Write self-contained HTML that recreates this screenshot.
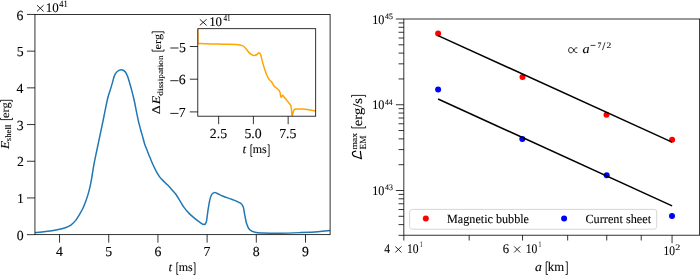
<!DOCTYPE html>
<html><head><meta charset="utf-8"><style>
html,body{margin:0;padding:0;background:#fff;width:700px;height:275px;overflow:hidden;}
svg{display:block;will-change:transform;font-family:"Liberation Serif",serif;}
text{stroke:#000;stroke-width:0.1px;}
</style></head><body>
<svg width="700" height="275" viewBox="0 0 700 275" text-rendering="geometricPrecision" font-family="Liberation Serif">
<defs><clipPath id="cl"><rect x="34.95" y="14.45" width="295.15" height="220.2"/></clipPath>
<clipPath id="ci"><rect x="197.8" y="28.7" width="117.9" height="87.5"/></clipPath></defs>
<path d="M35,232.6 C36.77,232.42 41.88,231.98 45.6,231.5 C49.32,231.02 54,230.33 57.3,229.7 C60.6,229.07 63.08,228.52 65.4,227.7 C67.72,226.88 69.45,226.07 71.2,224.8 C72.95,223.53 74.5,221.85 75.9,220.1 C77.3,218.35 78.45,216.23 79.6,214.3 C80.75,212.37 81.85,210.45 82.8,208.5 C83.75,206.55 84.4,205.03 85.3,202.6 C86.2,200.17 87.35,196.8 88.2,193.9 C89.05,191 89.73,188.35 90.4,185.2 C91.07,182.05 91.58,178.6 92.2,175 C92.82,171.4 93.33,167.68 94.1,163.6 C94.87,159.52 95.9,154.82 96.8,150.5 C97.7,146.18 98.75,141.27 99.5,137.7 C100.25,134.13 100.68,132.05 101.3,129.1 C101.92,126.15 102.52,123.33 103.2,120 C103.88,116.67 104.65,112.73 105.4,109.1 C106.15,105.47 106.85,101.53 107.7,98.2 C108.55,94.87 109.72,91.65 110.5,89.1 C111.28,86.55 111.78,85.02 112.4,82.9 C113.02,80.78 113.48,78.22 114.2,76.4 C114.92,74.58 115.55,73.1 116.7,72 C117.85,70.9 119.7,69.87 121.1,69.8 C122.5,69.73 124.02,70.5 125.1,71.6 C126.18,72.7 126.85,74.52 127.6,76.4 C128.35,78.28 128.97,80.78 129.6,82.9 C130.23,85.02 130.65,86.25 131.4,89.1 C132.15,91.95 133.28,96.37 134.1,100 C134.92,103.63 135.55,107.27 136.3,110.9 C137.05,114.53 137.88,118.7 138.6,121.8 C139.32,124.9 139.97,127.15 140.6,129.5 C141.23,131.85 141.75,133.57 142.4,135.9 C143.05,138.23 143.82,141.35 144.5,143.5 C145.18,145.65 145.83,147.05 146.5,148.8 C147.17,150.55 147.87,152.42 148.5,154 C149.13,155.58 149.57,156.55 150.3,158.3 C151.03,160.05 151.87,162.25 152.9,164.5 C153.93,166.75 155.28,169.62 156.5,171.8 C157.72,173.98 158.87,175.9 160.2,177.6 C161.53,179.3 163.17,180.67 164.5,182 C165.83,183.33 166.93,184.28 168.2,185.6 C169.47,186.92 170.77,188.37 172.1,189.9 C173.43,191.43 174.83,192.88 176.2,194.8 C177.57,196.72 178.93,199.22 180.3,201.4 C181.67,203.58 182.9,205.87 184.4,207.9 C185.9,209.93 187.53,211.82 189.3,213.6 C191.07,215.38 193.23,217.15 195,218.6 C196.77,220.05 198.4,221.3 199.9,222.3 C201.4,223.3 202.93,224.65 204,224.6 C205.07,224.55 205.68,224.05 206.3,222 C206.92,219.95 207.17,215.73 207.7,212.3 C208.23,208.87 208.88,204.28 209.5,201.4 C210.12,198.52 210.63,196.47 211.4,195 C212.17,193.53 213.2,192.9 214.1,192.6 C215,192.3 215.28,192.58 216.8,193.2 C218.32,193.82 220.62,195.25 223.2,196.3 C225.78,197.35 229.42,198.35 232.3,199.5 C235.18,200.65 238.68,201.98 240.5,203.2 C242.32,204.42 242.52,204.98 243.2,206.8 C243.88,208.62 244.05,211.37 244.6,214.1 C245.15,216.83 245.68,220.63 246.5,223.2 C247.32,225.77 248.08,227.98 249.5,229.5 C250.92,231.02 252.72,231.72 255,232.3 C257.28,232.88 259.02,232.85 263.2,233 C267.38,233.15 273.85,233.27 280.1,233.2 C286.35,233.13 294.4,232.83 300.7,232.6 C307,232.37 313.02,232.13 317.9,231.8 C322.78,231.47 327.98,230.8 330,230.6" fill="none" stroke="#1f77b4" stroke-width="1.5" stroke-linejoin="round" clip-path="url(#cl)"/>
<rect x="34.95" y="14.45" width="295.15" height="220.2" fill="none" stroke="#000" stroke-width="0.8"/>
<line x1="59.55" y1="234.65" x2="59.55" y2="242.65" stroke="#000" stroke-width="0.8"/>
<text transform="translate(56.06 256.2)" font-size="13.8" fill="#000">4</text>
<line x1="108.74" y1="234.65" x2="108.74" y2="242.65" stroke="#000" stroke-width="0.8"/>
<text transform="translate(105.15 256.2)" font-size="13.8" fill="#000">5</text>
<line x1="157.93" y1="234.65" x2="157.93" y2="242.65" stroke="#000" stroke-width="0.8"/>
<text transform="translate(154.38 256.2)" font-size="13.8" fill="#000">6</text>
<line x1="207.12" y1="234.65" x2="207.12" y2="242.65" stroke="#000" stroke-width="0.8"/>
<text transform="translate(203.43 256.2)" font-size="13.8" fill="#000">7</text>
<line x1="256.31" y1="234.65" x2="256.31" y2="242.65" stroke="#000" stroke-width="0.8"/>
<text transform="translate(252.86 256.2)" font-size="13.8" fill="#000">8</text>
<line x1="305.5" y1="234.65" x2="305.5" y2="242.65" stroke="#000" stroke-width="0.8"/>
<text transform="translate(302.12 256.2)" font-size="13.8" fill="#000">9</text>
<line x1="26.95" y1="234.65" x2="34.95" y2="234.65" stroke="#000" stroke-width="0.8"/>
<text transform="translate(16.75 239.77)" font-size="13.8" fill="#000">0</text>
<line x1="26.95" y1="197.95" x2="34.95" y2="197.95" stroke="#000" stroke-width="0.8"/>
<text transform="translate(17.03 203.1)" font-size="13.8" fill="#000">1</text>
<line x1="26.95" y1="161.25" x2="34.95" y2="161.25" stroke="#000" stroke-width="0.8"/>
<text transform="translate(16.96 166.4)" font-size="13.8" fill="#000">2</text>
<line x1="26.95" y1="124.55" x2="34.95" y2="124.55" stroke="#000" stroke-width="0.8"/>
<text transform="translate(16.75 129.63)" font-size="13.8" fill="#000">3</text>
<line x1="26.95" y1="87.85" x2="34.95" y2="87.85" stroke="#000" stroke-width="0.8"/>
<text transform="translate(16.41 93)" font-size="13.8" fill="#000">4</text>
<line x1="26.95" y1="51.15" x2="34.95" y2="51.15" stroke="#000" stroke-width="0.8"/>
<text transform="translate(16.75 56.2)" font-size="13.8" fill="#000">5</text>
<line x1="26.95" y1="14.45" x2="34.95" y2="14.45" stroke="#000" stroke-width="0.8"/>
<text transform="translate(16.61 19.53)" font-size="13.8" fill="#000">6</text>
<path d="M37,5.2 L43.6,11.4 M37,11.4 L43.6,5.2" stroke="#000" stroke-width="0.85" fill="none"/>
<text transform="translate(45.83 11.8) scale(0.9840 1)" font-size="13.2" fill="#000">10</text>
<text transform="translate(59.33 6.5) scale(0.8832 1)" font-size="9.6" fill="#000">41</text>
<text transform="translate(168.51 271.4) scale(1.1000 1)" font-size="12" font-style="italic" fill="#000">t</text>
<path d="M178.3,262.73 L176.8,262.73 L176.8,274.47 L178.3,274.47" fill="none" stroke="#000" stroke-width="0.85"/>
<text transform="translate(178.66 271.4) scale(0.9851 1)" font-size="12.2" fill="#000">ms</text>
<path d="M193.5,262.73 L195,262.73 L195,274.47 L193.5,274.47" fill="none" stroke="#000" stroke-width="0.85"/>
<text transform="translate(9.4 148.97) rotate(-90) scale(1.0974 1)" font-size="12.2" font-style="italic" fill="#000">E</text>
<text transform="translate(11.4 141.25) rotate(-90) scale(1.0539 1)" font-size="8.4" fill="#000">shell</text>
<path d="M0.42,117.8 L0.42,119.6 L12.47,119.6 L12.47,117.8" fill="none" stroke="#000" stroke-width="0.85"/>
<text transform="translate(9.4 118) rotate(-90) scale(1.0870 1)" font-size="11.5" fill="#000">erg</text>
<path d="M0.42,102.1 L0.42,100.3 L12.27,100.3 L12.27,102.1" fill="none" stroke="#000" stroke-width="0.85"/>
<rect x="197.8" y="28.7" width="117.9" height="87.5" fill="#fff"/>
<path d="M197.8,24 C197.81,26 197.8,32.8 197.85,36 C197.9,39.2 197.74,41.93 198.1,43.2 C198.46,44.47 198.08,43.48 200,43.6 C201.92,43.72 205.58,43.8 209.6,43.9 C213.62,44 219.73,44.1 224.1,44.2 C228.47,44.3 232.73,44.27 235.8,44.5 C238.87,44.73 240.8,44.9 242.5,45.6 C244.2,46.3 244.87,47.48 246,48.7 C247.13,49.92 248.22,51.83 249.3,52.9 C250.38,53.97 251.65,54.67 252.5,55.1 C253.35,55.53 253.63,55.6 254.4,55.5 C255.17,55.4 256.33,54.95 257.1,54.5 C257.87,54.05 258.4,52.7 259,52.8 C259.6,52.9 260.13,53.63 260.7,55.1 C261.27,56.57 261.75,59.3 262.4,61.6 C263.05,63.9 263.88,66.72 264.6,68.9 C265.32,71.08 265.98,73 266.7,74.7 C267.42,76.4 268.05,77.83 268.9,79.1 C269.75,80.37 270.87,81.07 271.8,82.3 C272.73,83.53 273.57,85.43 274.5,86.5 C275.43,87.57 276.57,87.97 277.4,88.7 C278.23,89.43 279.02,90.05 279.5,90.9 C279.98,91.75 280.05,92.75 280.3,93.8 C280.55,94.85 280.63,96.95 281,97.2 C281.37,97.45 282.02,95.38 282.5,95.3 C282.98,95.22 283.18,95.85 283.9,96.7 C284.62,97.55 285.83,99.18 286.8,100.4 C287.77,101.62 288.97,102.92 289.7,104 C290.43,105.08 290.83,105.08 291.2,106.9 C291.57,108.72 291.67,113.57 291.9,114.9 C292.13,116.23 292.23,115.75 292.6,114.9 C292.97,114.05 293.37,110.77 294.1,109.8 C294.83,108.83 295.55,109.22 297,109.1 C298.45,108.98 300.87,108.98 302.8,109.1 C304.73,109.22 306.53,109.52 308.6,109.8 C310.67,110.08 313.8,110.6 315.2,110.8 C316.6,111 316.7,110.97 317,111" fill="none" stroke="#ffa500" stroke-width="1.5" stroke-linejoin="round" clip-path="url(#ci)"/>
<rect x="197.8" y="28.7" width="117.9" height="87.5" fill="none" stroke="#000" stroke-width="0.8"/>
<line x1="218.65" y1="116.2" x2="218.65" y2="124.2" stroke="#000" stroke-width="0.8"/>
<text transform="translate(209.79 138.4)" font-size="13.8" fill="#000">2.5</text>
<line x1="253.4" y1="116.2" x2="253.4" y2="124.2" stroke="#000" stroke-width="0.8"/>
<text transform="translate(244.44 138.4)" font-size="13.8" fill="#000">5.0</text>
<line x1="288.15" y1="116.2" x2="288.15" y2="124.2" stroke="#000" stroke-width="0.8"/>
<text transform="translate(279.15 138.4)" font-size="13.8" fill="#000">7.5</text>
<line x1="189.8" y1="46.5" x2="197.8" y2="46.5" stroke="#000" stroke-width="0.8"/>
<text transform="translate(178.95 51.65)" font-size="13.8" fill="#000">5</text>
<line x1="170.3" y1="48" x2="178.5" y2="48" stroke="#000" stroke-width="0.85"/>
<line x1="189.8" y1="79.2" x2="197.8" y2="79.2" stroke="#000" stroke-width="0.8"/>
<text transform="translate(178.81 84.39)" font-size="13.8" fill="#000">6</text>
<line x1="170.3" y1="80.7" x2="178.5" y2="80.7" stroke="#000" stroke-width="0.85"/>
<line x1="189.8" y1="111.9" x2="197.8" y2="111.9" stroke="#000" stroke-width="0.8"/>
<text transform="translate(178.81 117.12)" font-size="13.8" fill="#000">7</text>
<line x1="170.3" y1="113.4" x2="178.5" y2="113.4" stroke="#000" stroke-width="0.85"/>
<path d="M199.8,19.3 L206.6,25.4 M199.8,25.4 L206.6,19.3" stroke="#000" stroke-width="0.85" fill="none"/>
<text transform="translate(209.14 26.1) scale(0.9753 1)" font-size="13.2" fill="#000">10</text>
<text transform="translate(223.56 20.6) scale(0.7850 1)" font-size="9" fill="#000">41</text>
<text transform="translate(242.61 153.4) scale(1.1000 1)" font-size="12" font-style="italic" fill="#000">t</text>
<path d="M252.4,144.73 L250.9,144.73 L250.9,156.47 L252.4,156.47" fill="none" stroke="#000" stroke-width="0.85"/>
<text transform="translate(252.76 153.4) scale(0.9851 1)" font-size="12.2" fill="#000">ms</text>
<path d="M267.6,144.73 L269.1,144.73 L269.1,156.47 L267.6,156.47" fill="none" stroke="#000" stroke-width="0.85"/>
<text transform="translate(160.4 114.36) rotate(-90) scale(1.1849 1)" font-size="11.8" fill="#000">Δ</text>
<text transform="translate(160.4 104.26) rotate(-90) scale(1.1969 1)" font-size="11.6" font-style="italic" fill="#000">E</text>
<text transform="translate(162.6 95.73) rotate(-90) scale(1.1610 1)" font-size="8" fill="#000">dissipation</text>
<path d="M152.12,49.3 L152.12,51.1 L163.97,51.1 L163.97,49.3" fill="none" stroke="#000" stroke-width="0.85"/>
<text transform="translate(160.7 49.39) rotate(-90) scale(1.1526 1)" font-size="10.7" fill="#000">erg</text>
<path d="M152.12,33.6 L152.12,31.8 L163.97,31.8 L163.97,33.6" fill="none" stroke="#000" stroke-width="0.85"/>
<circle cx="438.1" cy="33.4" r="3" fill="#ff0000"/>
<circle cx="522.5" cy="77.1" r="3" fill="#ff0000"/>
<circle cx="606.5" cy="114.7" r="3" fill="#ff0000"/>
<circle cx="672.1" cy="139.8" r="3" fill="#ff0000"/>
<circle cx="438.1" cy="89.5" r="3" fill="#0000ff"/>
<circle cx="522.3" cy="139" r="3" fill="#0000ff"/>
<circle cx="606.7" cy="175.2" r="3" fill="#0000ff"/>
<circle cx="672" cy="216" r="3" fill="#0000ff"/>
<line x1="438.05" y1="35.6" x2="672" y2="142.1" stroke="#000" stroke-width="1.5"/>
<line x1="438.05" y1="99" x2="672.1" y2="205.9" stroke="#000" stroke-width="1.5"/>
<rect x="403.85" y="19" width="295.8" height="216.2" fill="none" stroke="#000" stroke-width="0.8"/>
<line x1="403.85" y1="235.2" x2="403.85" y2="240.5" stroke="#000" stroke-width="0.8"/>
<line x1="469.17" y1="235.2" x2="469.17" y2="240.5" stroke="#000" stroke-width="0.8"/>
<line x1="522.54" y1="235.2" x2="522.54" y2="240.5" stroke="#000" stroke-width="0.8"/>
<line x1="567.66" y1="235.2" x2="567.66" y2="240.5" stroke="#000" stroke-width="0.8"/>
<line x1="606.74" y1="235.2" x2="606.74" y2="240.5" stroke="#000" stroke-width="0.8"/>
<line x1="641.22" y1="235.2" x2="641.22" y2="240.5" stroke="#000" stroke-width="0.8"/>
<line x1="672.06" y1="235.2" x2="672.06" y2="243.2" stroke="#000" stroke-width="0.8"/>
<line x1="398.55" y1="235.34" x2="403.85" y2="235.34" stroke="#000" stroke-width="0.8"/>
<line x1="398.55" y1="224.62" x2="403.85" y2="224.62" stroke="#000" stroke-width="0.8"/>
<line x1="398.55" y1="216.31" x2="403.85" y2="216.31" stroke="#000" stroke-width="0.8"/>
<line x1="398.55" y1="209.52" x2="403.85" y2="209.52" stroke="#000" stroke-width="0.8"/>
<line x1="398.55" y1="203.78" x2="403.85" y2="203.78" stroke="#000" stroke-width="0.8"/>
<line x1="398.55" y1="198.81" x2="403.85" y2="198.81" stroke="#000" stroke-width="0.8"/>
<line x1="398.55" y1="194.42" x2="403.85" y2="194.42" stroke="#000" stroke-width="0.8"/>
<line x1="395.85" y1="190.5" x2="403.85" y2="190.5" stroke="#000" stroke-width="0.8"/>
<line x1="398.55" y1="164.69" x2="403.85" y2="164.69" stroke="#000" stroke-width="0.8"/>
<line x1="398.55" y1="149.59" x2="403.85" y2="149.59" stroke="#000" stroke-width="0.8"/>
<line x1="398.55" y1="138.87" x2="403.85" y2="138.87" stroke="#000" stroke-width="0.8"/>
<line x1="398.55" y1="130.56" x2="403.85" y2="130.56" stroke="#000" stroke-width="0.8"/>
<line x1="398.55" y1="123.77" x2="403.85" y2="123.77" stroke="#000" stroke-width="0.8"/>
<line x1="398.55" y1="118.03" x2="403.85" y2="118.03" stroke="#000" stroke-width="0.8"/>
<line x1="398.55" y1="113.06" x2="403.85" y2="113.06" stroke="#000" stroke-width="0.8"/>
<line x1="398.55" y1="108.67" x2="403.85" y2="108.67" stroke="#000" stroke-width="0.8"/>
<line x1="395.85" y1="104.75" x2="403.85" y2="104.75" stroke="#000" stroke-width="0.8"/>
<line x1="398.55" y1="78.94" x2="403.85" y2="78.94" stroke="#000" stroke-width="0.8"/>
<line x1="398.55" y1="63.84" x2="403.85" y2="63.84" stroke="#000" stroke-width="0.8"/>
<line x1="398.55" y1="53.12" x2="403.85" y2="53.12" stroke="#000" stroke-width="0.8"/>
<line x1="398.55" y1="44.81" x2="403.85" y2="44.81" stroke="#000" stroke-width="0.8"/>
<line x1="398.55" y1="38.02" x2="403.85" y2="38.02" stroke="#000" stroke-width="0.8"/>
<line x1="398.55" y1="32.28" x2="403.85" y2="32.28" stroke="#000" stroke-width="0.8"/>
<line x1="398.55" y1="27.31" x2="403.85" y2="27.31" stroke="#000" stroke-width="0.8"/>
<line x1="398.55" y1="22.92" x2="403.85" y2="22.92" stroke="#000" stroke-width="0.8"/>
<line x1="395.85" y1="19" x2="403.85" y2="19" stroke="#000" stroke-width="0.8"/>
<text transform="translate(372.2 195.2) scale(0.9230 1)" font-size="13.2" fill="#000">10</text>
<text transform="translate(385.04 190.4) scale(0.9372 1)" font-size="8.4" fill="#000">43</text>
<text transform="translate(372.2 109.45) scale(0.9230 1)" font-size="13.2" fill="#000">10</text>
<text transform="translate(385.05 104.65) scale(0.9129 1)" font-size="8.4" fill="#000">44</text>
<text transform="translate(372.2 23.7) scale(0.9230 1)" font-size="13.2" fill="#000">10</text>
<text transform="translate(385.04 18.9) scale(0.9372 1)" font-size="8.4" fill="#000">45</text>
<text transform="translate(384.17 252.9) scale(0.8798 1)" font-size="13.2" fill="#000">4</text>
<path d="M395.3,246.4 L401.4,252.5 M395.3,252.5 L401.4,246.4" stroke="#000" stroke-width="0.85" fill="none"/>
<text transform="translate(406.96 252.9) scale(0.8795 1)" font-size="13.2" fill="#000">10</text>
<text transform="translate(419.96 247.4) scale(0.5782 1)" font-size="8.4" fill="#000">1</text>
<text transform="translate(502.63 252.9) scale(0.9626 1)" font-size="13.2" fill="#000">6</text>
<path d="M514.1,246.4 L520.2,252.5 M514.1,252.5 L520.2,246.4" stroke="#000" stroke-width="0.85" fill="none"/>
<text transform="translate(525.76 252.9) scale(0.8795 1)" font-size="13.2" fill="#000">10</text>
<text transform="translate(538.76 247.4) scale(0.5782 1)" font-size="8.4" fill="#000">1</text>
<text transform="translate(663.57 255.4) scale(0.8708 1)" font-size="13.2" fill="#000">10</text>
<text transform="translate(675.35 250.4) scale(1.1905 1)" font-size="8.4" fill="#000">2</text>
<text transform="translate(534.89 271.3) scale(1.0555 1)" font-size="13" font-style="italic" fill="#000">a</text>
<path d="M548,261.82 L546.2,261.82 L546.2,274.47 L548,274.47" fill="none" stroke="#000" stroke-width="0.85"/>
<text transform="translate(547.85 271.3) scale(0.9580 1)" font-size="13.3" fill="#000">km</text>
<path d="M565.6,261.82 L567.3,261.82 L567.3,274.47 L565.6,274.47" fill="none" stroke="#000" stroke-width="0.85"/>
<path transform="translate(362.3 159.4) rotate(-90)" d="M8.3,-6.6 C8.0,-8.6 7.3,-9.9 6.2,-9.9 C5.0,-9.9 4.1,-9.4 3.5,-8.6 C2.5,-6.0 1.5,-2.6 0.6,-0.9 C3.0,-1.3 5.6,-1.7 8.0,-1.9" fill="none" stroke="#000" stroke-width="1.2" stroke-linecap="round" stroke-linejoin="round"/>
<text transform="translate(356.5 149.39) rotate(-90) scale(1.1138 1)" font-size="8.5" fill="#000">max</text>
<text transform="translate(365.6 149.47) rotate(-90) scale(0.9857 1)" font-size="9.3" fill="#000">EM</text>
<path d="M351.62,126.1 L351.62,127.9 L365.57,127.9 L365.57,126.1" fill="none" stroke="#000" stroke-width="0.85"/>
<text transform="translate(362.1 126.18) rotate(-90) scale(1.0811 1)" font-size="13.5" fill="#000">erg/s</text>
<path d="M351.53,97.2 L351.53,95.4 L365.57,95.4 L365.57,97.2" fill="none" stroke="#000" stroke-width="0.85"/>
<path d="M577.3,47.91 C575.91,47.6 574.69,48.22 573.82,50.2 C572.95,52.18 571.91,52.8 570.69,52.8 C569.3,52.8 568.6,51.66 568.6,50.2 C568.6,48.74 569.3,47.6 570.69,47.6 C571.91,47.6 572.95,48.22 573.82,50.2 C574.69,52.18 575.91,52.8 577.3,52.49" fill="none" stroke="#000" stroke-width="0.9"/>
<text transform="translate(582.47 53.2) scale(1.1083 1)" font-size="12.8" font-style="italic" fill="#000">a</text>
<line x1="590.5" y1="45.4" x2="595.5" y2="45.4" stroke="#000" stroke-width="0.75"/>
<text transform="translate(597.39 47.8) scale(0.9406 1)" font-size="8.4" fill="#000">7</text>
<line x1="602.5" y1="50.1" x2="605" y2="42.4" stroke="#000" stroke-width="0.75"/>
<text transform="translate(606.57 47.8) scale(1.1310 1)" font-size="8.4" fill="#000">2</text>
<rect x="409.6" y="209.4" width="247.1" height="19.8" rx="2.5" fill="#fff" fill-opacity="0.8" stroke="#cccccc" stroke-width="0.8"/>
<circle cx="425.8" cy="218.4" r="3" fill="#ff0000"/>
<text transform="translate(447.04 222.6) scale(0.9717 1)" font-size="12.5" fill="#000">Magnetic bubble</text>
<circle cx="564.1" cy="218.4" r="3" fill="#0000ff"/>
<text transform="translate(585.41 222.6) scale(0.9808 1)" font-size="12.5" fill="#000">Current sheet</text>
</svg>
</body></html>
